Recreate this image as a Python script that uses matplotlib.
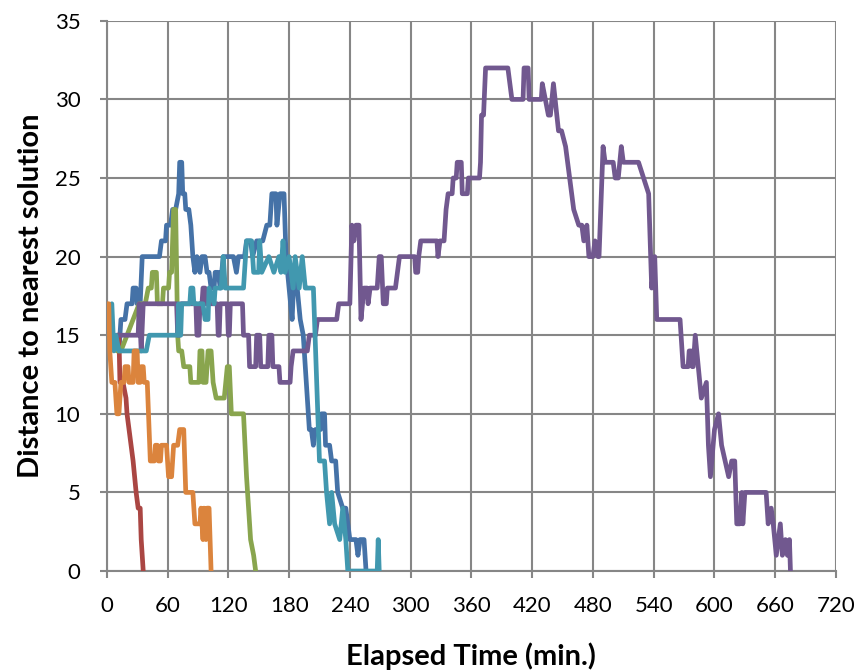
import matplotlib.pyplot as plt

# each run: elapsed minutes and distance to nearest solution
blue_t = [12, 14, 18, 20, 25, 26, 29, 30, 33, 35, 52, 54, 58, 59, 63, 65, 68, 71, 72, 74, 75, 77, 78, 81, 83, 85, 87, 89, 92, 94, 97, 99, 101, 103, 106, 107, 110, 112, 115, 125, 128, 130, 136, 138, 142, 144, 148, 154, 158, 161, 163, 167, 168, 171, 175, 177, 180, 183, 185, 188, 191, 194, 197, 200, 202, 204, 206, 211, 212, 215, 216, 220, 222, 226, 228, 233, 236, 240, 246, 248, 250, 254, 256]
blue_v = [14, 16, 16, 17, 17, 18, 18, 17, 17, 20, 20, 21, 21, 22, 22, 23, 23, 24, 26, 26, 24, 24, 23, 23, 22, 20, 19, 20, 19, 20, 20, 19, 19, 18, 18, 19, 19, 18, 20, 20, 19, 20, 20, 21, 21, 20, 21, 21, 22, 22, 24, 24, 22, 24, 24, 20, 18, 16, 19, 18, 16, 15, 12, 9, 9, 8, 9, 9, 10, 10, 8, 8, 7, 7, 5, 4, 4, 2, 2, 1, 2, 2, 0]

red_t = [10, 12, 13, 16, 19, 20, 22, 24, 26, 29, 31, 33, 34, 35, 36]
red_v = [15, 15, 12, 12, 11, 10, 9, 8, 7, 5, 4, 4, 2, 1, 0]

green_t = [10, 14, 20, 26, 32, 38, 41, 44, 45, 49, 50, 55, 56, 61, 62, 64, 66, 68, 70, 71, 74, 76, 82, 83, 91, 92, 94, 95, 98, 100, 103, 105, 108, 116, 119, 121, 123, 135, 138, 140, 142, 145, 147]
green_v = [14, 14, 15, 16, 17, 17, 18, 18, 19, 19, 17, 17, 18, 18, 19, 19, 23, 23, 15, 14, 14, 13, 13, 12, 12, 14, 14, 12, 12, 14, 14, 12, 11, 11, 13, 13, 10, 10, 6, 4, 2, 1, 0]

purple_t = [10, 31, 32, 34, 36, 69, 70, 72, 73, 88, 89, 91, 92, 94, 95, 97, 98, 109, 110, 111, 112, 119, 120, 121, 122, 134, 135, 140, 141, 147, 148, 151, 152, 159, 160, 163, 164, 170, 171, 181, 182, 184, 198, 200, 206, 208, 227, 229, 240, 242, 244, 246, 249, 251, 254, 257, 258, 260, 267, 269, 271, 273, 276, 277, 285, 289, 304, 305, 307, 308, 310, 326, 327, 329, 333, 335, 337, 341, 342, 345, 346, 350, 351, 356, 357, 368, 369, 370, 372, 374, 396, 400, 411, 412, 416, 417, 429, 430, 433, 436, 438, 441, 446, 449, 453, 457, 461, 466, 469, 471, 474, 476, 480, 482, 485, 486, 490, 492, 500, 502, 505, 508, 510, 525, 535, 537, 538, 541, 543, 566, 569, 574, 575, 577, 578, 579, 581, 587, 592, 594, 596, 600, 604, 607, 614, 617, 620, 622, 625, 627, 628, 630, 648, 651, 653, 656, 658, 661, 665, 667, 670, 672, 674, 675]
purple_v = [15, 15, 17, 14, 17, 17, 15, 15, 17, 17, 15, 15, 17, 17, 18, 18, 17, 17, 15, 15, 17, 17, 15, 15, 17, 17, 15, 15, 13, 13, 15, 15, 13, 13, 15, 15, 13, 13, 12, 12, 13, 14, 14, 15, 15, 16, 16, 17, 17, 22, 21, 22, 22, 16, 18, 18, 17, 18, 18, 20, 20, 17, 17, 18, 18, 20, 20, 19, 19, 20, 21, 21, 20, 21, 21, 23, 24, 24, 25, 25, 26, 26, 24, 24, 25, 25, 26, 29, 29, 32, 32, 30, 30, 32, 32, 30, 30, 31, 30, 29, 29, 31, 28, 28, 27, 25, 23, 22, 22, 21, 22, 20, 20, 21, 20, 20, 27, 26, 26, 25, 25, 27, 26, 26, 24, 20, 18, 20, 16, 16, 13, 13, 14, 14, 13, 13, 15, 11, 12, 8, 6, 9, 10, 8, 6, 7, 7, 3, 3, 5, 3, 5, 5, 5, 3, 4, 3, 1, 3, 1, 2, 1, 2, 0]

cyan_t = [5, 7, 9, 12, 14, 39, 42, 70, 71, 72, 73, 74, 82, 83, 85, 86, 95, 97, 100, 101, 106, 107, 113, 115, 117, 118, 135, 138, 143, 145, 150, 151, 153, 160, 165, 170, 172, 174, 176, 180, 184, 186, 190, 193, 196, 198, 204, 210, 215, 217, 220, 222, 225, 230, 233, 236, 238, 267, 268, 269]
cyan_v = [17, 14, 15, 14, 14, 14, 15, 15, 17, 15, 15, 17, 17, 18, 18, 17, 17, 16, 16, 18, 17, 18, 18, 20, 18, 18, 18, 21, 21, 19, 19, 21, 19, 20, 19, 20, 19, 21, 19, 20, 18, 20, 18, 20, 18, 18, 18, 7, 7, 5, 3, 5, 3, 2, 4, 2, 0, 0, 2, 0]

orange_t = [0, 2, 3, 5, 8, 10, 12, 14, 17, 18, 21, 22, 26, 27, 30, 31, 33, 34, 36, 37, 40, 43, 47, 48, 50, 51, 53, 54, 59, 61, 64, 66, 70, 72, 76, 78, 85, 87, 92, 93, 95, 96, 98, 99, 101, 103]
orange_v = [17, 17, 14, 12, 12, 10, 10, 12, 12, 13, 13, 12, 12, 14, 14, 12, 12, 13, 13, 12, 12, 7, 7, 8, 8, 7, 7, 8, 8, 6, 6, 8, 8, 9, 9, 5, 5, 3, 3, 4, 2, 4, 2, 4, 4, 0]

series = [
    (blue_t, blue_v, "#4572A7"),
    (red_t, red_v, "#AA4643"),
    (green_t, green_v, "#89A54E"),
    (purple_t, purple_v, "#71588F"),
    (cyan_t, cyan_v, "#4198AF"),
    (orange_t, orange_v, "#DB843D"),
]

x_ticks = list(range(0, 721, 60))
y_ticks = list(range(0, 36, 5))

plt.rcParams['font.family'] = ['Lato', 'DejaVu Sans']
fig = plt.figure(figsize=(8.61, 6.71), dpi=100)
ax = fig.add_axes([0.124, 0.149, 0.847, 0.82])

for t, v, c in series:
    ax.plot(t, v, color=c, lw=3.4, solid_joinstyle='round', solid_capstyle='round', zorder=3)

ax.set_xlim(0, 720)
ax.set_ylim(0, 35)
ax.set_xticks(x_ticks)
ax.set_yticks(y_ticks)
ax.grid(True, color='#868686', lw=1.5)
ax.set_axisbelow(True)
for s in ['top', 'right']:
    ax.spines[s].set_visible(False)
for s in ['left', 'bottom']:
    ax.spines[s].set_color('#868686')
    ax.spines[s].set_linewidth(1.5)
ax.tick_params(axis='both', colors='#868686', width=1.5, length=5, labelsize=16, labelcolor='black')
ax.tick_params(axis='x', pad=13)
ax.tick_params(axis='y', pad=14)
ax.set_xlabel('Elapsed Time (min.)', fontsize=21, fontweight='bold', labelpad=19)
ax.set_ylabel('Distance to nearest solution', fontsize=21, fontweight='bold', labelpad=8)

fig.savefig('out.png', dpi=100)
